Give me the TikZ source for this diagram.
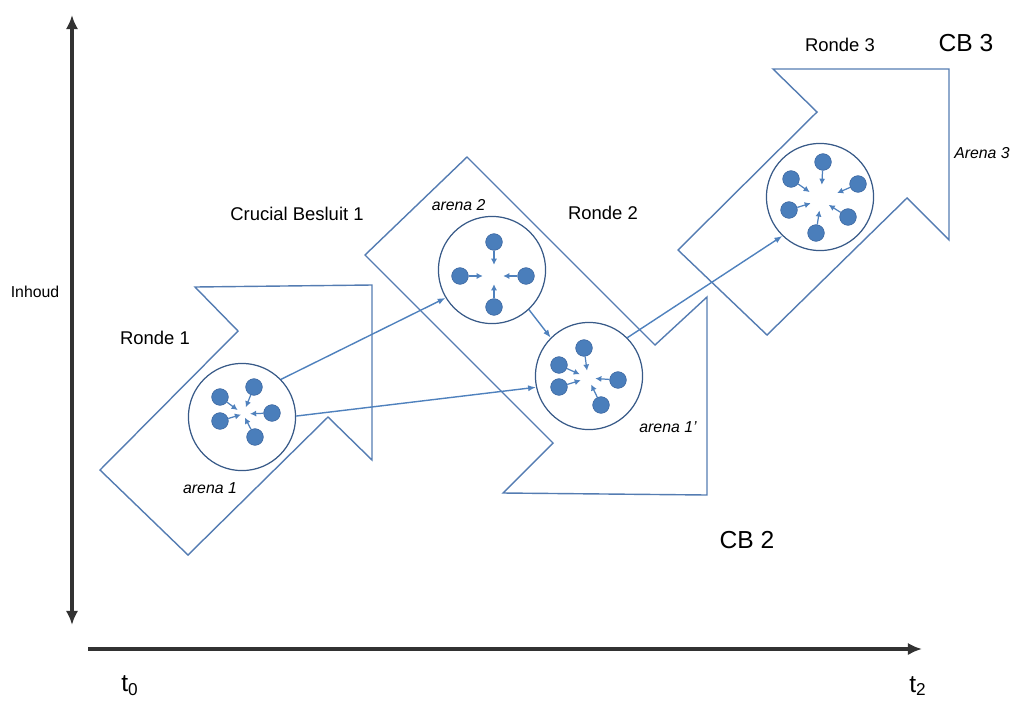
\documentclass[tikz,border=0pt]{standalone}
\usepackage{fontspec}
\setmainfont{Liberation Sans}
\usepackage{tikz}
\usetikzlibrary{arrows.meta,positioning,calc}

\definecolor{blockblue}{RGB}{84,124,178}
\definecolor{ringblue}{RGB}{56,90,136}
\definecolor{dotblue}{RGB}{74,126,187}
\definecolor{dotedge}{RGB}{58,100,158}
\definecolor{linkblue}{RGB}{79,129,189}
\definecolor{axisgray}{RGB}{50,50,50}

\begin{document}
\begin{tikzpicture}[x=0.02cm, y=-0.02cm, >={Latex[length=8pt,width=7pt]}]
	\tikzstyle{block}=[draw=blockblue, line width=0.8pt, line join=miter]
	\tikzstyle{arena}=[draw=ringblue, circle, line width=0.7pt,
		minimum size=61pt, inner sep=0pt]
	\tikzstyle{dot}=[circle, fill=dotblue, draw=dotedge, line width=0.3pt,
		minimum size=9.5pt, inner sep=0pt]
	\tikzstyle{spoke}=[-{Latex[length=3.5pt,width=3.5pt]}, draw=linkblue, line width=0.7pt]
	\tikzstyle{link}=[-{Latex[length=4.5pt,width=3.5pt]}, draw=linkblue, line width=0.8pt]
	\tikzstyle{axis}=[draw=axisgray, line width=2pt]
	\tikzstyle{tag}=[inner sep=1pt, font=\fontsize{10.5}{12}\selectfont]
	\tikzstyle{cb}=[inner sep=1pt, font=\fontsize{14}{16}\selectfont]
	\tikzstyle{arenatag}=[inner sep=1pt, font=\fontsize{9}{10}\selectfont\itshape]
	\useasboundingbox (0,0) rectangle (1013,700);
	% % Block arrows
	% ronde 1
	\draw[block] (195,287) -- (372,285) -- (372,460) -- (328,417)
		-- (188,555) -- (100,470) -- (238,331) -- cycle;
	% ronde 2
	\draw[block] (467,157) -- (655,345) -- (707,297) -- (707,495)
		-- (503,493) -- (553,443) -- (365,255) -- cycle;
	% ronde 3
	\draw[block] (773,69) -- (949,69) -- (949,240) -- (907,198)
		-- (767,335) -- (678,250) -- (817,112) -- cycle;
	% % Arenas
	\node[arena] (a1) at (242,417) {};
	\node[arena] (a2) at (492,270) {};
	\node[arena] (a1b) at (589,376) {};
	\node[arena] (a3) at (820,197) {};
	\coordinate (a1c) at (243,414);
	\coordinate (a2c) at (494,276);
	\coordinate (a1bc) at (588,378);
	\coordinate (a3c) at (821,200);
	% actors in arena 1
	\foreach \dx/\dy [count=\i] in {-22/-20,12/-30,30/-4,-22/4,13/20}{
		\node[dot] (a1d\i) at ($(a1)+(\dx,\dy)$) {};
		\draw[spoke] (a1d\i) -- ($(a1d\i.center)!12.5pt!(a1c)$);
	}
	% actors in arena 2
	\foreach \dx/\dy [count=\i] in {2/-28,-32/6,34/6,2/37}{
		\node[dot] (a2d\i) at ($(a2)+(\dx,\dy)$) {};
		\draw[spoke] (a2d\i) -- ($(a2d\i.center)!13pt!(a2c)$);
	}
	% actors in arena 1'
	\foreach \dx/\dy [count=\i] in {-5/-28,-30/-11,-30/11,29/4,12/29}{
		\node[dot] (a1bd\i) at ($(a1b)+(\dx,\dy)$) {};
		\draw[spoke] (a1bd\i) -- ($(a1bd\i.center)!13pt!(a1bc)$);
	}
	% actors in arena 3
	\foreach \dx/\dy [count=\i] in {3/-35,-29/-18,38/-13,-31/13,28/20,-4/36}{
		\node[dot] (a3d\i) at ($(a3)+(\dx,\dy)$) {};
		\draw[spoke] (a3d\i) -- ($(a3d\i.center)!13pt!(a3c)$);
	}
	% % Labels
	\node[tag] (r1) at (155,338) {Ronde 1};
	\node[tag] (cb1) at (297,214) {Crucial Besluit 1};
	\node[tag] (r2) at (603,213) {Ronde 2};
	\node[tag] (r3) at (840,45) {Ronde 3};
	\node[cb] (cb3) at (966,43) {CB 3};
	\node[cb] (cb2) at (747,540) {CB 2};
	\node[arenatag] (l1) at (210,488) {arena 1};
	\node[arenatag, above=2pt of a2, xshift=-19pt] (l2) {arena 2};
	\node[arenatag] (l1b) at (668,427) {arena 1'};
	\node[arenatag] (l3) at (982,153) {Arena 3};
	\node[inner sep=1pt, font=\fontsize{9}{10}\selectfont] (inh) at (35,292) {Inhoud};
	\node[cb] (t0) at (130,686) {t\textsubscript{0}};
	\node[cb] (t2) at (918,686) {t\textsubscript{2}};
	% % Axes
	\coordinate (ytop) at (72,15);
	\coordinate (ybot) at (72,625);
	\coordinate (xl) at (88,649);
	\coordinate (xr) at (922,649);
	\draw[axis, <->] (ytop) -- (ybot);
	\draw[axis, ->] (xl) -- (xr);
	% % Connectors
	\draw[link] (a1.44) -- (a2.211);
	\draw[link] (a1.1) -- (a1b.192);
	\draw[link] (a2.-47) -- (a1b.135);
	\draw[link] (a1b.45) -- (a3.226);
\end{tikzpicture}
\end{document}
